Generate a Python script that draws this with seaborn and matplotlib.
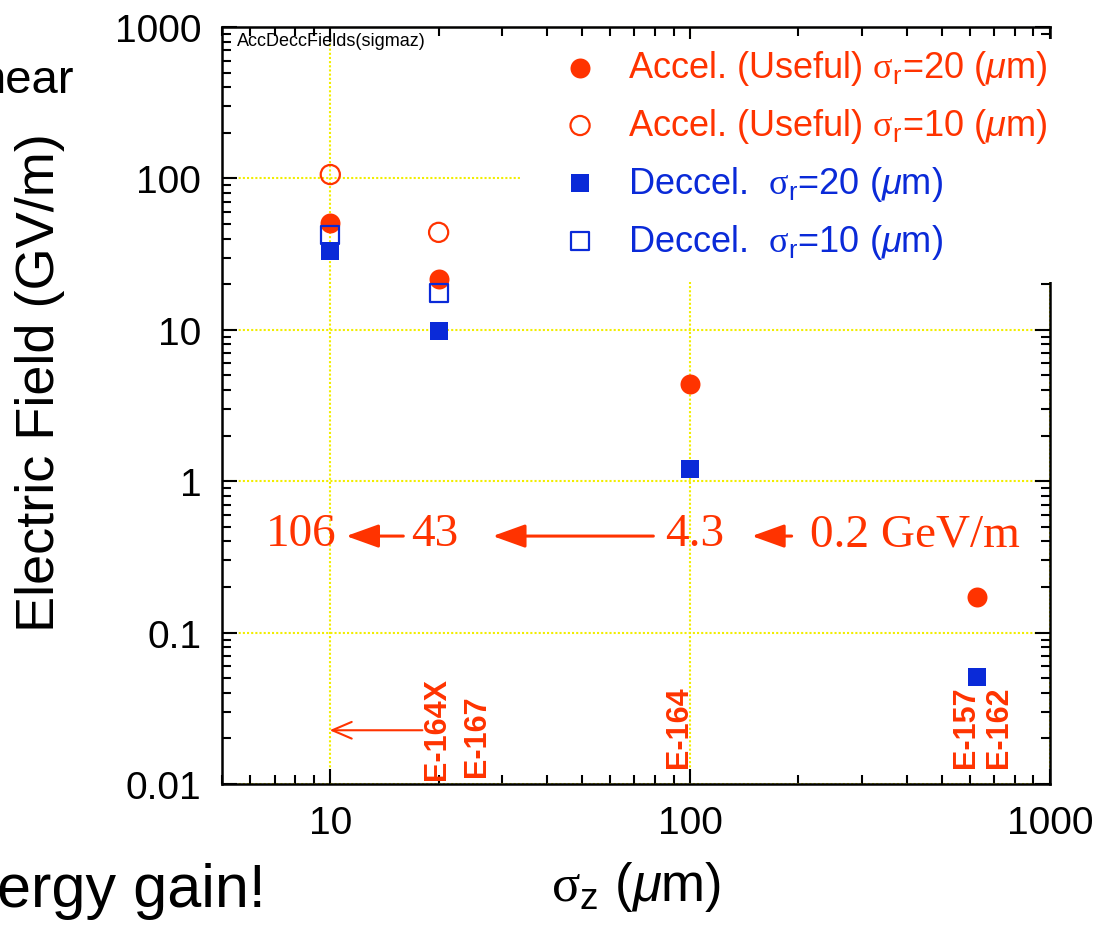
import matplotlib
matplotlib.use("Agg")
import matplotlib.pyplot as plt
import seaborn as sns
from matplotlib.patches import Rectangle
from matplotlib.ticker import LogLocator, FuncFormatter, NullFormatter

# data (log-log)
sigz_acc20 = [10, 20, 100, 625]
E_acc20 = [51, 21.5, 4.4, 0.173]
sigz_acc10 = [10, 20]
E_acc10 = [106, 44]
sigz_dec20 = [10, 20, 100, 625]
E_dec20 = [33, 9.8, 1.2, 0.051]
sigz_dec10 = [10, 20]
E_dec10 = [42, 17.6]

labels = [
    r"Accel. (Useful) $\mathrm{\sigma}_\mathsf{r}$=20 ($\mu$m)",
    r"Accel. (Useful) $\mathrm{\sigma}_\mathsf{r}$=10 ($\mu$m)",
    r"Deccel.  $\mathrm{\sigma}_\mathsf{r}$=20 ($\mu$m)",
    r"Deccel.  $\mathrm{\sigma}_\mathsf{r}$=10 ($\mu$m)",
]
experiments = ["E-164X", "E-167", "E-164", "E-157", "E-162"]

RED = "#ff3300"
BLUE = "#0a2ad8"
GRID = "#f2ee00"

sns.set_style("ticks")
plt.rcParams["font.family"] = ["Liberation Sans", "DejaVu Sans"]
plt.rcParams["mathtext.fontset"] = "custom"
plt.rcParams["mathtext.rm"] = "Liberation Serif"
plt.rcParams["mathtext.it"] = "Liberation Sans:italic"
plt.rcParams["mathtext.sf"] = "Liberation Sans"
for k in ["text.color", "axes.labelcolor", "xtick.color", "ytick.color"]:
    plt.rcParams[k] = "black"

fig = plt.figure(figsize=(11, 9.29), dpi=100)
ax = fig.add_axes([0.2018, 0.155, 0.7527, 0.8149])

sns.scatterplot(x=sigz_acc20, y=E_acc20, ax=ax, marker="o", s=207,
                color=RED, edgecolor=RED, linewidth=0, label=labels[0], zorder=3)
sns.scatterplot(x=sigz_acc10, y=E_acc10, ax=ax, marker="o", s=190,
                facecolors="none", edgecolor=RED, linewidth=1.6, label=labels[1], zorder=3)
sns.scatterplot(x=sigz_dec20, y=E_dec20, ax=ax, marker="s", s=180,
                color=BLUE, edgecolor=BLUE, linewidth=0, label=labels[2], zorder=3)
sns.scatterplot(x=sigz_dec10, y=E_dec10, ax=ax, marker="s", s=170,
                facecolors="none", edgecolor=BLUE, linewidth=1.6, label=labels[3], zorder=3)

ax.set_xscale("log")
ax.set_yscale("log")
ax.set_xlim(5, 1000)
ax.set_ylim(0.01, 1000)

fmt = FuncFormatter(lambda v, p: "%g" % v)
ax.xaxis.set_major_locator(LogLocator(base=10))
ax.yaxis.set_major_locator(LogLocator(base=10))
ax.xaxis.set_minor_locator(LogLocator(base=10, subs=range(2, 10)))
ax.yaxis.set_minor_locator(LogLocator(base=10, subs=range(2, 10)))
ax.xaxis.set_major_formatter(fmt)
ax.yaxis.set_major_formatter(fmt)
ax.xaxis.set_minor_formatter(NullFormatter())
ax.yaxis.set_minor_formatter(NullFormatter())

for s in ax.spines.values():
    s.set_visible(True)
    s.set_linewidth(1.8)
    s.set_color("black")
ax.tick_params(which="both", direction="in", top=True, right=True, width=1.5, color="black")
ax.tick_params(which="major", length=11, labelsize=28)
ax.tick_params(which="minor", length=6.5)
ax.tick_params(axis="x", which="major", pad=15)
ax.tick_params(axis="y", which="major", pad=15)

ax.grid(True, which="major", color=GRID, linestyle=(0, (1, 1)), linewidth=1.5)
ax.set_axisbelow(True)

ax.set_ylabel("Electric Field (GV/m)", fontsize=39)
ax.yaxis.set_label_coords(-0.19, 0.532)
ax.set_xlabel(r"$\mathrm{\sigma}_\mathsf{z}$ ($\mu$m)", fontsize=38)
ax.xaxis.set_label_coords(0.5, -0.099)

# white box under the legend, hides grid and right spine like the original
ax.add_patch(Rectangle((0.36, 0.663), 0.66, 0.321, transform=ax.transAxes,
                       facecolor="white", edgecolor="none", zorder=4, clip_on=False))

leg = ax.legend(loc="upper left", bbox_to_anchor=(0.3965, 0.991), frameon=False,
                fontsize=26, handlelength=0.85, handletextpad=0.9,
                labelspacing=0.52, borderaxespad=0)
leg.set_zorder(6)
for t, c in zip(leg.get_texts(), [RED, RED, BLUE, BLUE]):
    t.set_color(c)

ax.text(0.018, 0.9815, "AccDeccFields(sigmaz)", transform=ax.transAxes,
        fontsize=13, va="center", ha="left", zorder=7)

# field progression row
serif = dict(family=["Liberation Serif", "DejaVu Serif"], fontsize=34, color=RED)
row_y = 0.330
ax.text(0.0954, row_y, "106", transform=ax.transAxes, ha="center", va="center", **serif)
ax.text(0.257, row_y, "43", transform=ax.transAxes, ha="center", va="center", **serif)
ax.text(0.571, row_y, "4.3", transform=ax.transAxes, ha="center", va="center", **serif)
ax.text(0.710, row_y, "0.2 GeV/m", transform=ax.transAxes, ha="left", va="center", **serif)
big_arrow = dict(arrowstyle="-|>,head_length=0.5,head_width=0.18", mutation_scale=40,
                 color=RED, lw=2.2, shrinkA=0, shrinkB=0)
for x0, x1 in [(0.219, 0.150), (0.521, 0.327), (0.688, 0.640)]:
    ax.annotate("", xy=(x1, 0.3275), xytext=(x0, 0.3275), xycoords="axes fraction",
                arrowprops=big_arrow)

# experiment labels
exp_x = [0.260, 0.308, 0.552, 0.899, 0.939]
exp_y = [0.007, 0.011, 0.0225, 0.0225, 0.0225]
for name, xx, yy in zip(experiments, exp_x, exp_y):
    ax.text(xx, yy, name, transform=ax.transAxes, rotation=90, ha="center", va="bottom",
            fontsize=22, fontweight="bold", color=RED)
ax.annotate("", xy=(0.130, 0.071), xytext=(0.242, 0.071), xycoords="axes fraction",
            arrowprops=dict(arrowstyle="->,head_length=0.7,head_width=0.3",
                            mutation_scale=20, color=RED, lw=1.5, shrinkA=0, shrinkB=0))

# slide text cut off at the left edge
fig.text(74 / 1100, 1 - 93 / 929, "near", ha="right", va="baseline", fontsize=34)
fig.text(266 / 1100, 1 - 907 / 929, "ergy gain!", ha="right", va="baseline", fontsize=44)

fig.savefig("out.png", dpi=100)
